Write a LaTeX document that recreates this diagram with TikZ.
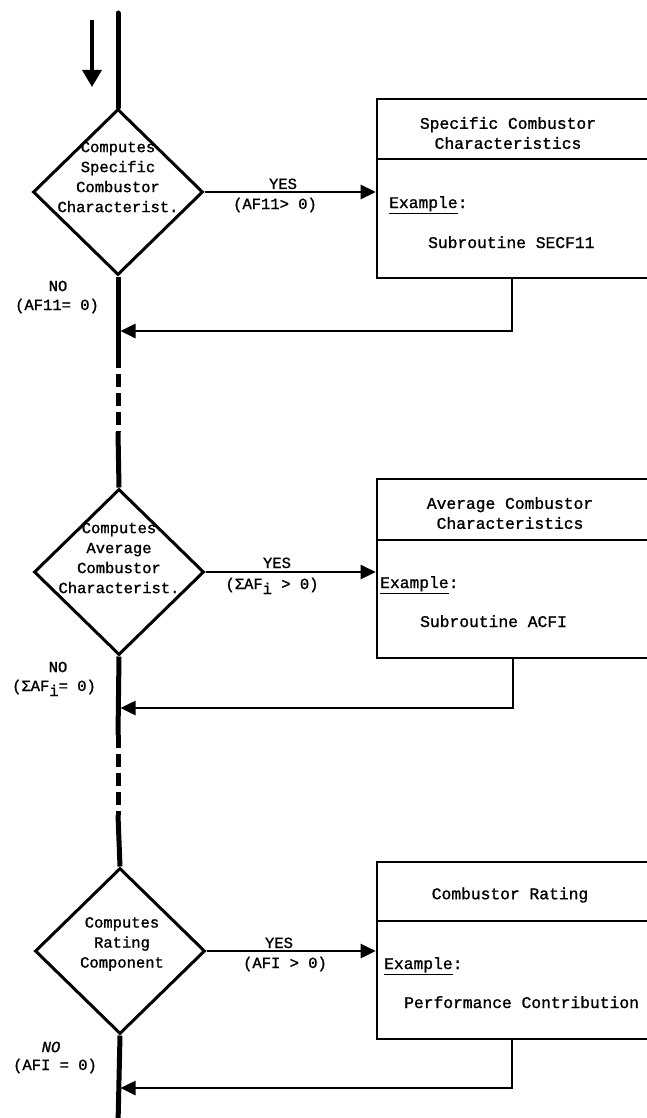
\documentclass[tikz,border=0pt]{standalone}
\usepackage{fontspec}
\setmainfont{Liberation Mono}[UprightFeatures={FakeBold=1.2},ItalicFeatures={FakeBold=1.2}]
\usetikzlibrary{shapes.geometric,arrows.meta,calc}
\begin{document}
\begin{tikzpicture}[x=1pt,y=-1pt,
  mainline/.style={line width=5pt},
  gapline/.style={line width=5pt, dash pattern=on 13pt off 6pt},
  decision/.style={diamond, draw, line width=3pt, minimum width=170pt, minimum height=166pt, inner sep=0pt},
  panel/.style={rectangle, draw, line width=2.6pt, minimum width=303pt, inner sep=0pt},
  rulel/.style={line width=2.4pt},
  flow/.style={line width=2.6pt, -{Triangle[length=15pt,width=14pt]}},
  dtext/.style={align=center, font=\fontsize{15.5}{20}\selectfont, inner sep=0pt},
  btext/.style={font=\fontsize{16.3}{20}\selectfont, inner sep=0pt},
  ltext/.style={font=\fontsize{15.5}{20}\selectfont, inner sep=0pt, align=center},
]
\useasboundingbox[fill=white] (0,0) rectangle (646,1118);

% ---------- decisions ----------
\node[decision] (d1) at (118,192) {};
\node[decision] (d2) at (119,572) {};
\node[decision] (d3) at (120,951) {};

\node[dtext] (t1) at (118,177) {Computes\\Specific\\Combustor\\Characterist.};
\node[dtext] (t2) at (119,558) {Computes\\Average\\Combustor\\Characterist.};
\node[dtext] (t3) at (122,944) {Computes\\Rating\\Component};

% ---------- panels ----------
\node[panel, minimum height=179pt] (box1) at (528.5,188.5) {};
\node[panel, minimum height=179pt] (box2) at (528.5,568.5) {};
\node[panel, minimum height=177pt] (box3) at (528.5,950.5) {};
\draw[rulel] (377,159) -- (680,159);
\draw[rulel] (377,540) -- (680,540);
\draw[rulel] (377,921) -- (680,921);

\node[btext, align=center] (h1) at (508,133) {Specific Combustor\\Characteristics};
\node[btext, align=center] (h2) at (510,513) {Average Combustor\\Characteristics};
\node[btext] (h3) at (510,895) {Combustor Rating};

\node[btext, anchor=base west] (e1) at (389,208) {\underline{Example}:};
\node[btext, anchor=base west] (e2) at (380,588) {\underline{Example}:};
\node[btext, anchor=base west] (e3) at (384,969) {\underline{Example}:};

\node[btext, anchor=base west] (s1) at (428,248) {Subroutine SECF11};
\node[btext, anchor=base west] (s2) at (420,627) {Subroutine ACFI};
\node[btext, anchor=base west] (s3) at (404,1008) {Performance Contribution};

% ---------- main line ----------
\coordinate (top) at (118,13);
\coordinate (g1a) at (118,355);
\coordinate (g1b) at (118,432);
\coordinate (g2a) at (118,735);
\coordinate (g2b) at (118,815);
\coordinate (bot) at (118,1125);
\draw[mainline, line cap=round] (top) -- (d1.north);
\draw[mainline] (d1.south) -- (g1a);
\draw[gapline] (g1a) -- (g1b);
\draw[mainline] (g1b) -- (d2.north);
\draw[mainline] (d2.south) -- (g2a);
\draw[gapline] (g2a) -- (g2b);
\draw[mainline] (g2b) -- (d3.north);
\draw[mainline] (d3.south) -- (bot);

% entry arrow
\coordinate (in0) at (92,20);
\coordinate (in1) at (92,87);
\draw[line width=3.4pt, -{Triangle[length=17pt,width=19pt]}] (in0) -- (in1);

% ---------- YES branches ----------
\draw[flow] (d1.east) -- (d1.east -| box1.west);
\draw[flow] (d2.east) -- (d2.east -| box2.west);
\draw[flow] (d3.east) -- (d3.east -| box3.west);

\node[ltext, anchor=base] (y1) at (283,189) {YES};
\node[ltext, anchor=base] (y2) at (277,568) {YES};
\node[ltext, anchor=base] (y3) at (279,948) {YES};
\node[ltext] (c1) at (275,205) {(AF11> 0)};
\node[ltext, anchor=base] (c2) at (272,589) {(ΣAF\raisebox{-5pt}{i} > 0)};
\node[ltext] (c3) at (285,964) {(AFI > 0)};

% ---------- returns ----------
\coordinate (r1) at (512,331);
\coordinate (r2) at (513,708);
\coordinate (r3) at (512,1088);
\draw[flow, shorten >=2.5pt] (box1.south -| r1) -- (r1) -- (r1 -| top);
\draw[flow, shorten >=2.5pt] (box2.south -| r2) -- (r2) -- (r2 -| top);
\draw[flow, shorten >=2.5pt] (box3.south -| r3) -- (r3) -- (r3 -| top);

% ---------- NO labels ----------
\node[ltext] (n1) at (58,286) {NO};
\node[ltext] (m1) at (57,306) {(AF11= 0)};
\node[ltext] (n2) at (58,667) {NO};
\node[ltext, anchor=base] (m2) at (54,691) {(ΣAF\raisebox{-5pt}{i}= 0)};
\node[ltext, font=\fontsize{15.5}{20}\selectfont\itshape] (n3) at (51,1047) {NO};
\node[ltext] (m3) at (55,1066) {(AFI = 0)};
\end{tikzpicture}
\end{document}
